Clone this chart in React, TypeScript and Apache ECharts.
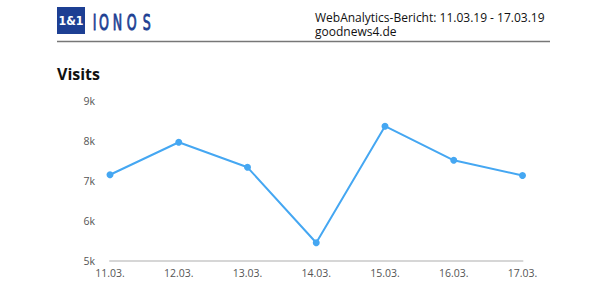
import React, { useEffect, useRef } from "react";
import * as echarts from "echarts";

const categories = ["11.03.", "12.03.", "13.03.", "14.03.", "15.03.", "16.03.", "17.03."];
const visits = [7150, 7960, 7335, 5455, 8360, 7510, 7130];
const yTicks = { min: 5000, max: 9000, interval: 1000 };
const headerTitle = "WebAnalytics-Bericht: 11.03.19 - 17.03.19";
const headerSite = "goodnews4.de";
const chartTitle = "Visits";
const logoLetters = ["I", "O", "N", "O", "S"];
const logoLetterX = [94.5, 104, 117.5, 131.7, 146.7];

export default function App() {
  const ref = useRef<HTMLDivElement>(null);
  useEffect(() => {
    document.body.style.margin = "0";
    const chart = echarts.init(ref.current!, null, { renderer: "svg" });
    const blue = "#1d3f93";
    const font = "'Open Sans', 'Noto Sans', sans-serif";
    chart.setOption({
      animation: false,
      backgroundColor: "#ffffff",
      graphic: [
        { type: "rect", shape: { x: 57, y: 7, width: 28, height: 27 }, style: { fill: blue } },
        {
          type: "text",
          x: 71,
          y: 21,
          scaleX: 0.85,
          style: {
            text: "1&1",
            fill: "#ffffff",
            font: "bold 13px 'DejaVu Sans', sans-serif",
            align: "center",
            verticalAlign: "middle",
          },
        },
        ...logoLetters.map((l, i) => ({
          type: "text",
          x: logoLetterX[i],
          y: 22.5,
          scaleX: 0.6,
          style: {
            text: l,
            fill: blue,
            stroke: blue,
            lineWidth: 0.9,
            font: "21px 'DejaVu Sans', sans-serif",
            align: "center",
            verticalAlign: "middle",
          },
        })),
        { type: "line", shape: { x1: 57, y1: 41.5, x2: 550, y2: 41.5 }, style: { stroke: "#777", lineWidth: 1.5 } },
        {
          type: "text",
          x: 315,
          y: 17,
          style: {
            text: headerTitle,
            fill: "#111",
            font: `12px ${font}`,
            lineHeight: 12,
            verticalAlign: "middle",
          },
        },
        {
          type: "text",
          x: 315,
          y: 31,
          style: {
            text: headerSite,
            fill: "#111",
            font: `12px ${font}`,
            lineHeight: 12,
            verticalAlign: "middle",
          },
        },
        {
          type: "text",
          x: 57,
          y: 74,
          style: { text: chartTitle, fill: "#111", font: `bold 16px ${font}`, verticalAlign: "middle" },
        },
      ],
      grid: { left: 110, right: 85.5, top: 100.5, bottom: 33 },
      xAxis: {
        type: "category",
        data: categories,
        boundaryGap: false,
        axisLine: { show: true, lineStyle: { color: "#d6d6d6", width: 2 } },
        axisTick: { show: false },
        axisLabel: { color: "#555", fontSize: 10.5, fontFamily: font, margin: 6 },
      },
      yAxis: {
        type: "value",
        min: yTicks.min,
        max: yTicks.max,
        interval: yTicks.interval,
        splitLine: { show: false },
        axisLine: { show: false },
        axisTick: { show: false },
        axisLabel: {
          color: "#555",
          fontSize: 10.5,
          fontFamily: font,
          margin: 15,
          formatter: (v: number) => `${v / 1000}k`,
        },
      },
      series: [
        {
          type: "line",
          data: visits,
          symbol: "circle",
          symbolSize: 7,
          lineStyle: { color: "#45a7f2", width: 2 },
          itemStyle: { color: "#45a7f2" },
        },
      ],
    });
    return () => chart.dispose();
  }, []);
  return <div ref={ref} style={{ width: 608, height: 294 }} />;
}
